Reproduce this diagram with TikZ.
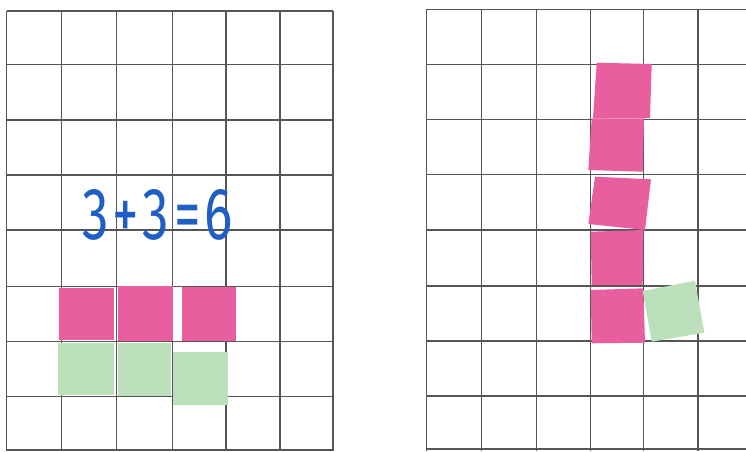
\documentclass[tikz,border=0pt]{standalone}
\usepackage{fontspec}
\setmainfont{Fira Sans}
\definecolor{gridc}{HTML}{555555}
\definecolor{pinkc}{HTML}{E95E9F}
\definecolor{greenc}{HTML}{BBE0BB}
\definecolor{bluec}{HTML}{1F5EC4}
\tikzset{
  gridline/.style={draw=gridc, line width=1.2pt},
  pinksq/.style={fill=pinkc, draw=none},
  greensq/.style={fill=greenc, draw=none},
  sumtext/.style={text=bluec, inner sep=0pt}
}
\begin{document}
\begin{tikzpicture}[x=1pt,y=-1pt]
\useasboundingbox (0,0) rectangle (746,451);
\fill[white] (0,0) rectangle (746,451);
% left grid
\foreach \x in {6.7,61.7,116.7,172.3,226,280,333}
  \draw[gridline] (\x,11) -- (\x,451);
\foreach \y in {11,64.5,120,175,230,286.5,341.7,396.5,450}
  \draw[gridline] (6.7,\y) -- (333,\y);
% right grid
\foreach \x in {426.3,481.3,536.3,590.3,643.7,698}
  \draw[gridline] (\x,9.5) -- (\x,451);
\foreach \y in {9.5,64.3,119.3,174.3,230,286,341,396,449}
  \draw[gridline] (426.3,\y) -- (746,\y);
% left squares
\fill[pinksq] (59,288.3) rectangle (114,340);
\fill[pinksq] (118.3,285.5) rectangle (173.3,341);
\fill[pinksq] (181.7,286.7) rectangle (236,341);
\fill[greensq] (58.3,342.7) rectangle (114,394.5);
\fill[greensq] (118.3,342.7) rectangle (171,396);
\fill[greensq] (173.3,351.7) rectangle (228.3,405);
% text
\node[sumtext] (sum) at (158,215) {\resizebox{150pt}{50pt}{3\kern0.06em+\kern0.06em3\kern0.1em=\kern0.08em6}};
% right squares
\fill[pinksq] (596.7,62.7) -- (651.7,64) -- (650,118) -- (593,118.3) -- cycle;
\fill[pinksq] (591.7,118.3) -- (644,118.3) -- (642.7,171.7) -- (588.3,170) -- cycle;
\fill[pinksq] (595,176.7) -- (651,179.3) -- (645,230) -- (588.3,224) -- cycle;
\fill[pinksq] (590.7,231.7) -- (643.3,230) -- (642.7,285) -- (591.7,285) -- cycle;
\fill[pinksq] (590.7,290) -- (643.3,288.3) -- (645,342.7) -- (591.7,343.3) -- cycle;
\fill[greensq] (642.7,291) -- (695,280.7) -- (704.3,332.7) -- (651.7,341.7) -- cycle;
\end{tikzpicture}
\end{document}
